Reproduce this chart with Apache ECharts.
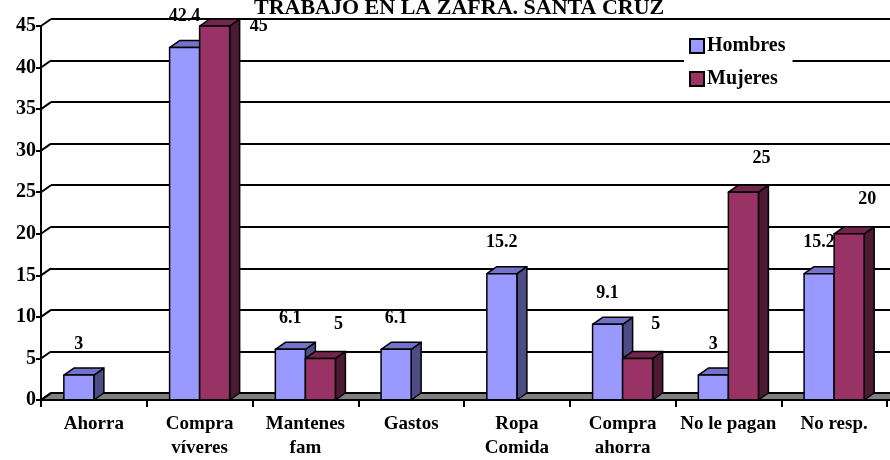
<!DOCTYPE html>
<html>
<head>
<meta charset="utf-8">
<script src="https://cdn.jsdelivr.net/npm/echarts@6/dist/echarts.min.js"></script>
<style>
html, body { margin: 0; padding: 0; background: #fff; }
#chart { width: 890px; height: 460px; }
</style>
</head>
<body>
<div id="chart"></div>
<script>
const categories = ['Ahorra', 'Compra\nvíveres', 'Mantenes\nfam', 'Gastos', 'Ropa\nComida', 'Compra\nahorra', 'No le pagan', 'No resp.'];
const hombres = [3, 42.4, 6.1, 6.1, 15.2, 9.1, 3, 15.2];
const mujeres = [null, 45, 5, null, null, 5, 25, 20];
const yTicks = [0, 5, 10, 15, 20, 25, 30, 35, 40, 45];

const FONT = '"Liberation Serif", "Times New Roman", serif';
const DX = 10, DY = -7;

// front, top, side colours per series
const shades = [
    ['#9999ff', '#7373c9', '#4d4d85'],
    ['#993366', '#73264d', '#4d1a33']
];

function bar3d(idx) {
    return function (params, api) {
        const v = api.value(1);
        if (v == null || isNaN(v)) return;
        const i = api.value(0);
        const top = api.coord([i, v]);
        const base = api.coord([i, 0]);
        const w = api.size([1, 0])[0] * 0.284;
        const x = idx === 0 ? top[0] - w : top[0];
        const ty = top[1], by = base[1];
        const c = shades[idx];
        const line = { stroke: '#000', lineWidth: 1.5, lineJoin: 'round' };
        let lx, ly;
        if (idx === 0) {
            lx = x + w / 2; ly = ty - 31;
        } else {
            lx = x + w + 3; ly = ty - 34;
            if (ly < 14) { lx = x + w + DX + 19; ly = ty; }
        }
        return {
            type: 'group',
            children: [
                { type: 'polygon', shape: { points: [[x + w, ty], [x + w + DX, ty + DY], [x + w + DX, by + DY], [x + w, by]] },
                  style: Object.assign({ fill: c[2] }, line) },
                { type: 'polygon', shape: { points: [[x, ty], [x + DX, ty + DY], [x + w + DX, ty + DY], [x + w, ty]] },
                  style: Object.assign({ fill: c[1] }, line) },
                { type: 'rect', shape: { x: x, y: ty, width: w, height: by - ty },
                  style: Object.assign({ fill: c[0] }, line) },
                { type: 'text', style: { text: String(v), x: lx, y: ly, align: 'center', verticalAlign: 'middle',
                  font: 'bold 18px ' + FONT, fill: '#000' } }
            ]
        };
    };
}

function frame(params, api) {
    const cs = params.coordSys;
    const x0 = cs.x;
    const y0 = cs.y + cs.height;
    const right = cs.x + cs.width + 3;
    const children = [
        { type: 'polygon', shape: { points: [[x0, y0], [x0 + DX, y0 + DY], [right + DX, y0 + DY], [right, y0]] },
          style: { fill: '#808080', stroke: '#000', lineWidth: 2 } }
    ];
    yTicks.forEach(function (t) {
        const p = api.coord([0, t]);
        children.push({ type: 'line', shape: { x1: x0, y1: p[1], x2: x0 + DX, y2: p[1] + DY },
            style: { stroke: '#000', lineWidth: 2 } });
    });
    return { type: 'group', children: children };
}

const chart = echarts.init(document.getElementById('chart'));
chart.setOption({
    animation: false,
    backgroundColor: '#fff',
    title: {
        text: 'TRABAJO EN LA ZAFRA. SANTA CRUZ',
        left: 249,
        top: -8,
        textStyle: { fontFamily: FONT, fontWeight: 'bold', fontSize: 22, color: '#000' }
    },
    legend: {
        orient: 'vertical',
        left: 684,
        top: 31,
        padding: [5, 7, 5, 5],
        itemWidth: 14,
        itemHeight: 14,
        itemGap: 13,
        icon: 'rect',
        backgroundColor: '#fff',
        itemStyle: { borderColor: '#000', borderWidth: 2 },
        textStyle: { fontFamily: FONT, fontWeight: 'bold', fontSize: 20, color: '#000', padding: [0, 0, 0, -2] },
        data: ['Hombres', 'Mujeres']
    },
    grid: [
        { left: 41, right: 3, top: 26, bottom: 60 },
        { left: 51, right: 0, top: 19, bottom: 67 }
    ],
    xAxis: [
        {
            type: 'category', gridIndex: 0, data: categories,
            axisLine: { lineStyle: { color: '#000', width: 2 } },
            axisTick: { show: true, length: 7, lineStyle: { color: '#000', width: 2 } },
            axisLabel: { interval: 0, margin: 12, lineHeight: 24, color: '#000',
                fontFamily: FONT, fontWeight: 'bold', fontSize: 19 },
            z: 5
        },
        { type: 'category', gridIndex: 1, data: categories, show: false }
    ],
    yAxis: [
        {
            type: 'value', gridIndex: 0, min: 0, max: 45, interval: 5,
            axisLine: { show: true, lineStyle: { color: '#000', width: 2 } },
            axisTick: { show: true, length: 5, lineStyle: { color: '#000', width: 2 } },
            axisLabel: { margin: 5, color: '#000', fontFamily: FONT, fontWeight: 'bold', fontSize: 20 },
            splitLine: { show: false },
            z: 5
        },
        {
            type: 'value', gridIndex: 1, min: 0, max: 45, interval: 5,
            axisLine: { show: false }, axisTick: { show: false }, axisLabel: { show: false },
            splitLine: { show: true, lineStyle: { color: '#000', width: 2 } }
        }
    ],
    series: [
        { type: 'custom', name: 'frame', xAxisIndex: 0, yAxisIndex: 0, z: 1, silent: true,
          renderItem: frame, data: [[0, 0]] },
        { type: 'custom', name: 'Hombres', xAxisIndex: 0, yAxisIndex: 0, z: 3,
          itemStyle: { color: '#9999ff' }, renderItem: bar3d(0),
          data: hombres.map(function (v, i) { return [i, v]; }) },
        { type: 'custom', name: 'Mujeres', xAxisIndex: 0, yAxisIndex: 0, z: 4,
          itemStyle: { color: '#993366' }, renderItem: bar3d(1),
          data: mujeres.map(function (v, i) { return [i, v]; }) }
    ]
});
</script>
</body>
</html>
